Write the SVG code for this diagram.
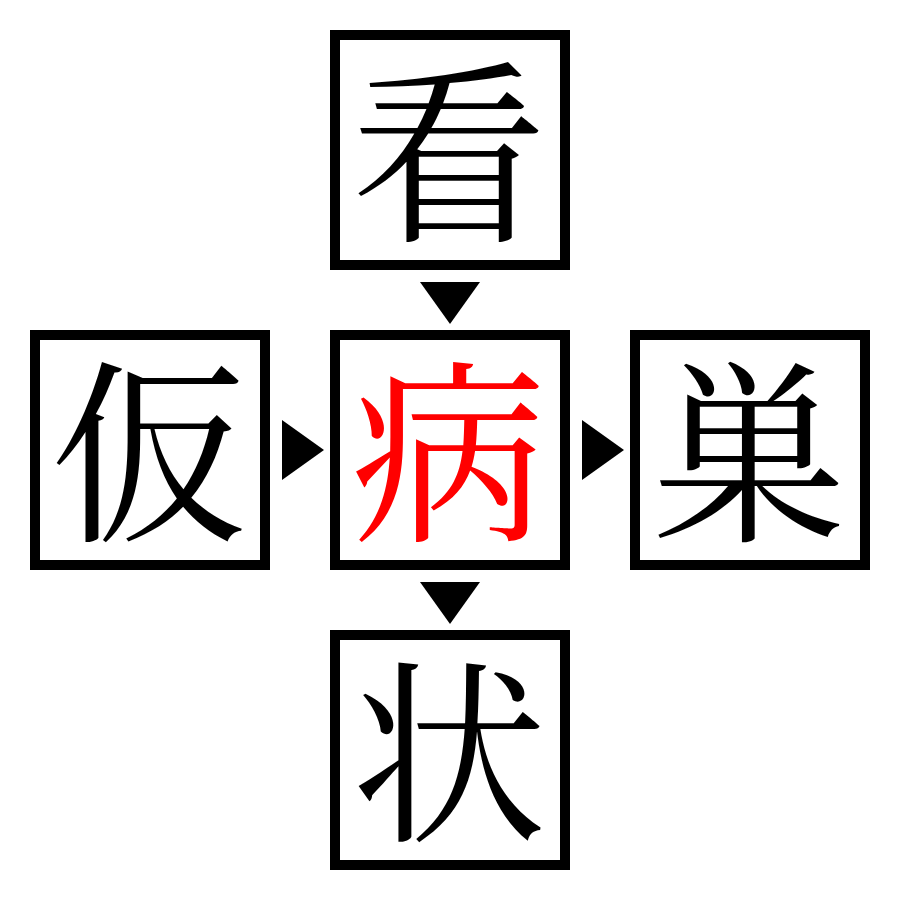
<svg xmlns="http://www.w3.org/2000/svg" width="900" height="900" viewBox="0 0 900 900">
<style>
.box{fill:#fff;stroke:#000;stroke-width:10}
.ch{font-family:"Noto Serif CJK JP","Noto Sans CJK JP",serif;font-size:196px;text-anchor:middle;dominant-baseline:central;fill:#000}
.hl{fill:#ff0000}
.arr{fill:#000}
</style>
<rect width="900" height="900" fill="#fff"/>
<g id="node-top"><rect class="box" x="335" y="35" width="230" height="230"/><text class="ch" x="449" y="141">看</text></g>
<g id="node-left"><rect class="box" x="35" y="335" width="230" height="230"/><text class="ch" x="149" y="441">仮</text></g>
<g id="node-center"><rect class="box" x="335" y="335" width="230" height="230"/><text class="ch hl" x="449" y="441">病</text></g>
<g id="node-right"><rect class="box" x="635" y="335" width="230" height="230"/><text class="ch" x="749" y="441">巣</text></g>
<g id="node-bottom"><rect class="box" x="335" y="635" width="230" height="230"/><text class="ch" x="449" y="741">状</text></g>
<g id="connectors">
<polygon class="arr" points="420,282 480,282 450,324"/>
<polygon class="arr" points="282,420 282,480 324,450"/>
<polygon class="arr" points="582,420 582,480 624,450"/>
<polygon class="arr" points="420,582 480,582 450,624"/>
</g>
</svg>
